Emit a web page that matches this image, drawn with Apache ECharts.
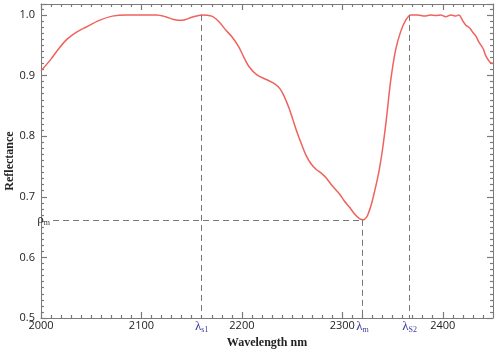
<!DOCTYPE html>
<html>
<head>
<meta charset="utf-8">
<script src="https://cdn.jsdelivr.net/npm/echarts@6/dist/echarts.min.js"></script>
<style>
  html, body { margin: 0; padding: 0; background: #fff; }
  #main { width: 498px; height: 350px; }
</style>
</head>
<body>
<div id="main"></div>
<script>
// wavelength (nm) and reflectance
const wavelength = [2000, 2009, 2018, 2026, 2035, 2045, 2058, 2071, 2085, 2100,
  2115, 2124, 2131, 2140, 2150, 2160, 2170, 2177, 2184, 2191,
  2197, 2202, 2207, 2215, 2225, 2233, 2238, 2242, 2247, 2251,
  2255, 2260, 2264, 2269, 2274, 2279, 2284, 2290, 2297, 2302,
  2307, 2312, 2317, 2321, 2324, 2326, 2329, 2332, 2335, 2337,
  2340, 2344, 2348, 2353, 2358, 2363, 2368, 2375, 2382, 2388,
  2393, 2398, 2403, 2408, 2413, 2416, 2420, 2423, 2427, 2430,
  2433, 2436, 2440, 2443, 2447, 2450]
const reflectance = [0.908, 0.925, 0.945, 0.960, 0.971, 0.980, 0.991, 0.998, 1.0, 1.0,
  1.0, 0.997, 0.993, 0.991, 0.996, 1.0, 0.998, 0.989, 0.975, 0.962,
  0.947, 0.930, 0.915, 0.901, 0.893, 0.886, 0.878, 0.866, 0.846, 0.826,
  0.806, 0.784, 0.768, 0.754, 0.745, 0.739, 0.731, 0.718, 0.705, 0.693,
  0.683, 0.672, 0.664, 0.662, 0.666, 0.673, 0.688, 0.708, 0.730, 0.747,
  0.778, 0.830, 0.890, 0.942, 0.972, 0.991, 1.0, 1.0, 0.998, 1.0,
  0.999, 1.0, 0.997, 1.0, 0.998, 1.0, 0.99, 0.983, 0.978, 0.971,
  0.965, 0.955, 0.945, 0.932, 0.922, 0.92]

// marker positions
const lambdaS1 = 2160
const lambdaM = 2320
const lambdaS2 = 2367
const rhoM = 0.662
const topRefl = 1.0

const xTicks = [2000, 2100, 2200, 2300, 2400]
const yTicks = [0.5, 0.6, 0.7, 0.8, 0.9, 1.0]

const axisGray = '#7a7a7a'
const serif = '"Liberation Serif", "DejaVu Serif", serif'
const sans = '"Open Sans", "Noto Sans", sans-serif'

const chart = echarts.init(document.getElementById('main'))

// rich text for the lambda labels (subscripts)
const lamRich = {
  l: { fontFamily: serif, fontSize: 13, color: '#3a3a9a' },
  s: { fontFamily: serif, fontSize: 8, color: '#3a3a9a', padding: [6, 0, 0, 0] }
}

function vLine(x, yTop, text) {
  return [
    { coord: [x, yTop] },
    {
      coord: [x, yTicks[0]],
      label: { show: true, position: 'end', distance: 2, formatter: text, rich: lamRich }
    }
  ]
}

// ticks pointing into the box on every side
function tickStyle() {
  return { show: true, inside: true, length: 6, lineStyle: { color: axisGray, width: 1.2 } }
}
function minorStyle() {
  return { show: true, splitNumber: 10, length: 3, lineStyle: { color: axisGray, width: 1.2 } }
}

let option = {
  animation: false,
  backgroundColor: '#fff',
  grid: { left: 41, right: 5, top: 4, bottom: 32, outerBoundsMode: 'none', containLabel: false },
  xAxis: [
    {
      type: 'value',
      min: 2000,
      max: 2450,
      interval: 100,
      name: 'Wavelength nm',
      nameLocation: 'middle',
      nameGap: 19,
      nameMoveOverlap: false,
      nameTextStyle: { fontFamily: serif, fontWeight: 'bold', fontSize: 12, color: '#222' },
      axisLine: { show: true, onZero: false, lineStyle: { color: axisGray } },
      axisTick: tickStyle(),
      minorTick: minorStyle(),
      splitLine: { show: false },
      axisLabel: {
        margin: 2,
        fontFamily: sans,
        fontSize: 11,
        color: '#222',
        formatter: v => (xTicks.indexOf(v) >= 0 ? String(v) : '')
      }
    },
    {
      type: 'value',
      position: 'top',
      min: 2000,
      max: 2450,
      interval: 100,
      axisLine: { show: true, onZero: false, lineStyle: { color: axisGray } },
      axisTick: tickStyle(),
      minorTick: minorStyle(),
      splitLine: { show: false },
      axisLabel: { show: false }
    }
  ],
  yAxis: [
    {
      type: 'value',
      min: 0.5,
      max: 1.018,
      interval: 0.1,
      name: 'Reflectance',
      nameLocation: 'middle',
      nameGap: 25,
      nameMoveOverlap: false,
      nameTextStyle: { fontFamily: serif, fontWeight: 'bold', fontSize: 12, color: '#222' },
      axisLine: { show: true, onZero: false, lineStyle: { color: axisGray } },
      axisTick: tickStyle(),
      minorTick: minorStyle(),
      splitLine: { show: false },
      axisLabel: {
        margin: 6,
        showMaxLabel: false,
        fontFamily: sans,
        fontSize: 11,
        color: '#222',
        formatter: v => (yTicks.some(t => Math.abs(t - v) < 1e-6) ? v.toFixed(1) : '')
      }
    },
    {
      type: 'value',
      position: 'right',
      min: 0.5,
      max: 1.018,
      interval: 0.1,
      axisLine: { show: true, onZero: false, lineStyle: { color: axisGray } },
      axisTick: tickStyle(),
      minorTick: minorStyle(),
      splitLine: { show: false },
      axisLabel: { show: false }
    }
  ],
  series: [
    {
      type: 'line',
      data: wavelength.map((w, i) => [w, reflectance[i]]),
      showSymbol: false,
      smooth: 0.3,
      lineStyle: { color: '#f0625c', width: 1.5 },
      markLine: {
        silent: true,
        symbol: ['none', 'none'],
        lineStyle: { color: '#777', type: [6, 4], width: 1 },
        label: { show: false },
        data: [
          vLine(lambdaS1, topRefl, '{l|λ}{s|s1}'),
          vLine(lambdaM, rhoM, '{l|λ}{s|m}'),
          vLine(lambdaS2, topRefl, '{l|λ}{s|S2}'),
          [
            {
              coord: [2012, rhoM],
              label: {
                show: true,
                position: 'start',
                distance: 3,
                formatter: '{l|ρ}{s|m}',
                rich: {
                  l: { fontFamily: serif, fontSize: 13, color: '#333' },
                  s: { fontFamily: serif, fontSize: 8, color: '#333', padding: [6, 0, 0, 0] }
                }
              }
            },
            { coord: [lambdaM, rhoM] }
          ]
        ]
      }
    }
  ]
}
chart.setOption(option)
</script>
</body>
</html>
